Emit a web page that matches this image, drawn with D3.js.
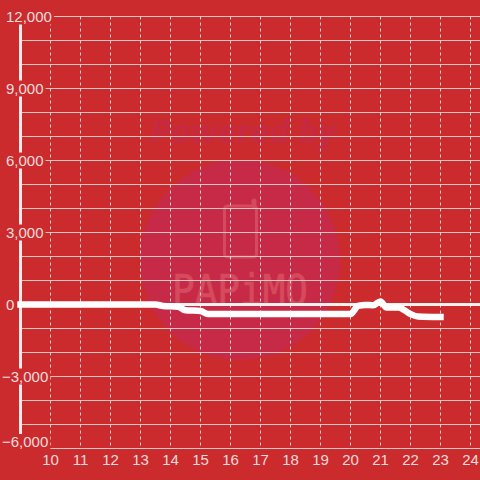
<!DOCTYPE html>
<html><head><meta charset="utf-8">
<script src="https://cdnjs.cloudflare.com/ajax/libs/d3/7.8.5/d3.min.js"></script>
<style>html,body{margin:0;padding:0;background:#cc2b2e}svg{display:block}</style>
</head><body><div id="c"></div>
<script>
const xTicks=[10,11,12,13,14,15,16,17,18,19,20,21,22,23,24];
const yGrid=[12000,11000,10000,9000,8000,7000,6000,5000,4000,3000,2000,1000,0,-1000,-2000,-3000,-4000,-5000,-6000];
const yLabels=[12000,9000,6000,3000,0,-3000,-6000];
const hours=[9,13.5,13.75,14.25,14.5,15,15.25,20,20.25,20.5,20.75,21,21.2,21.6,22,22.25,23];
const values=[0,0,-60,-90,-240,-270,-400,-400,-60,-20,-30,130,-130,-120,-400,-500,-520];
const W=480,H=480,bg="#cc2b2e",ink="#f3dcdc";
const x=d3.scaleLinear().domain([10,24]).range([50.5,470.5]);
const y=d3.scaleLinear().domain([12000,-6000]).range([16.5,448.5]);
const svg=d3.select("#c").append("svg").attr("width",W).attr("height",H);
svg.append("rect").attr("width",W).attr("height",H).attr("fill",bg);
// watermark
const wm=svg.append("g");
wm.append("circle").attr("cx",240).attr("cy",260).attr("r",100).attr("fill","#c72a47");
wm.append("text").attr("x",150).attr("y",143).attr("textLength",186).attr("lengthAdjust","spacingAndGlyphs")
 .attr("font-family","'Open Sans',sans-serif").attr("font-weight",700).attr("font-style","italic").attr("font-size",33).attr("fill","#c52a40").text("Powered by");
wm.append("rect").attr("x",224.5).attr("y",206).attr("width",32).attr("height",51).attr("rx",3).attr("fill","none").attr("stroke","#d54a5c").attr("stroke-width",3);
wm.append("path").attr("d",d3.line()([[254,206],[254,201]])).attr("stroke","#d54a5c").attr("stroke-width",5).attr("stroke-linecap","round");
wm.append("text").attr("x",172).attr("y",305).attr("textLength",136).attr("lengthAdjust","spacingAndGlyphs")
 .attr("font-family","'DejaVu Sans Mono',monospace").attr("font-size",42).attr("fill","#d54a5c").attr("stroke","#d54a5c").attr("stroke-width",0.7).text("PAPiMO");
// grid
svg.append("g").selectAll("line").data(yGrid).join("line")
 .attr("x1",20).attr("x2",W).attr("y1",d=>y(d)).attr("y2",d=>y(d)).attr("stroke","#d2c6c6").attr("stroke-width",1);
svg.append("g").selectAll("line").data(xTicks).join("line")
 .attr("x1",d=>x(d)).attr("x2",d=>x(d)).attr("y1",y(12000)).attr("y2",y(-6000))
 .attr("stroke","#e0d2d2").attr("stroke-width",1).attr("stroke-dasharray","3,3");
// zero line and axis
svg.append("line").attr("x1",20).attr("x2",W).attr("y1",y(0)).attr("y2",y(0)).attr("stroke","#f6f0f0").attr("stroke-width",3);
svg.append("line").attr("x1",20.5).attr("x2",20.5).attr("y1",y(12000)).attr("y2",y(-6000)).attr("stroke","#f3ecec").attr("stroke-width",3);
// series
svg.append("path").datum(hours.map((h,i)=>[h,values[i]]))
 .attr("d",d3.line().x(d=>x(d[0])).y(d=>y(d[1])).curve(d3.curveMonotoneX))
 .attr("fill","none").attr("stroke","#ffffff").attr("stroke-width",6.5).attr("stroke-linecap","square").attr("stroke-linejoin","round");
// labels with background
const fmt=d3.format(",");
const gl=svg.append("g").attr("font-family","'Liberation Sans',Arial,sans-serif").attr("font-size",15).attr("fill",ink);
yLabels.forEach(v=>{
  const cy=v===-6000?442:y(v);
  const t=gl.append("text").attr("x",v<0?2:6).attr("y",cy).attr("dy","0.36em").text(fmt(v));
  const b=t.node().getBBox();
  gl.insert("rect","text").attr("x",b.x).attr("y",cy-8).attr("width",b.width+2).attr("height",16).attr("fill",bg);
});
gl.selectAll("text.x").data(xTicks).join("text").attr("class","x").attr("x",d=>x(d)).attr("y",460).attr("dy","0.36em").attr("text-anchor","middle").text(d=>d);
</script></body></html>
